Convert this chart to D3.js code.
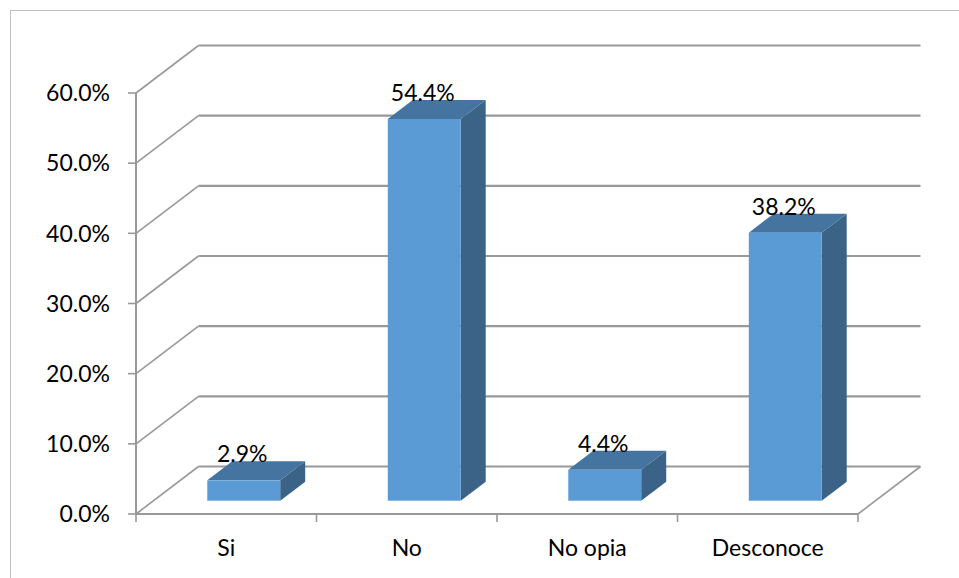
<!DOCTYPE html>
<html><head><meta charset="utf-8">
<script src="https://cdn.jsdelivr.net/npm/d3@7"></script>
<style>html,body{margin:0;padding:0;background:#fff;overflow:hidden}</style>
</head><body>
<svg id="c" width="959" height="578"></svg>
<script>
const categories = ["Si", "No", "No opia", "Desconoce"];
const values = [0.029, 0.544, 0.044, 0.382];
const valueLabels = ["2.9%", "54.4%", "4.4%", "38.2%"];
const yTicks = [0, 0.1, 0.2, 0.3, 0.4, 0.5, 0.6];

const svg = d3.select("#c");
const font = "Lato, 'Open Sans', sans-serif";
const fs = 23;

// frame
svg.append("rect").attr("x", 10.5).attr("y", 10.5).attr("width", 1000).attr("height", 1000)
  .attr("fill", "none").attr("stroke", "#bfbfbf").attr("stroke-width", 1);

const x0 = 136, x1 = 858, yb = 514, yt = 93;
const DX = 62.5, DY = -47.5; // full depth offset
const x = d3.scaleBand().domain(categories).range([x0, x1]).paddingInner(0).paddingOuter(0);
const y = d3.scaleLinear().domain([0, 0.6]).range([yb, yt]);

const grid = "#999999";
// side wall diagonals + back gridlines
yTicks.forEach(t => {
  const yy = y(t);
  svg.append("line").attr("x1", x0).attr("y1", yy).attr("x2", x0 + DX).attr("y2", yy + DY)
    .attr("stroke", grid).attr("stroke-width", 1.6);
  svg.append("line").attr("x1", x0 + DX).attr("y1", yy + DY).attr("x2", x1 + DX).attr("y2", yy + DY)
    .attr("stroke", grid).attr("stroke-width", 2.2);
});
// floor front and right diagonal
svg.append("line").attr("x1", x0).attr("y1", yb).attr("x2", x1).attr("y2", yb)
  .attr("stroke", grid).attr("stroke-width", 2);
svg.append("line").attr("x1", x1).attr("y1", yb).attr("x2", x1 + DX).attr("y2", yb + DY)
  .attr("stroke", grid).attr("stroke-width", 1.6);
// y axis
svg.append("line").attr("x1", x0).attr("y1", yt).attr("x2", x0).attr("y2", yb)
  .attr("stroke", grid).attr("stroke-width", 2);
// y ticks + labels
yTicks.forEach(t => {
  svg.append("line").attr("x1", x0 - 8).attr("y1", y(t)).attr("x2", x0).attr("y2", y(t))
    .attr("stroke", grid).attr("stroke-width", 1.6);
  svg.append("text").attr("x", 110).attr("y", y(t)).attr("dy", "0.36em")
    .attr("text-anchor", "end").attr("font-family", font).attr("font-size", fs)
    .attr("fill", "#000").text(d3.format(".1%")(t));
});
// x ticks
const xt = categories.map(c => x(c)).concat([x1]);
xt.forEach(v => {
  svg.append("line").attr("x1", v).attr("y1", yb).attr("x2", v).attr("y2", yb + 8)
    .attr("stroke", grid).attr("stroke-width", 1.6);
});
// x labels
categories.forEach(c => {
  svg.append("text").attr("x", x(c) + x.bandwidth() / 2).attr("y", 556)
    .attr("text-anchor", "middle").attr("font-family", font).attr("font-size", fs)
    .attr("fill", "#000").text(c);
});

// bars
const f0 = 0.28, f1 = 0.68; // depth fractions for bar front/back
const bw = x.bandwidth() * 0.404;
const ddx = (f1 - f0) * DX, ddy = (f1 - f0) * DY;
categories.forEach((c, i) => {
  const cx = x(c) + x.bandwidth() / 2 + f0 * DX;
  const L = cx - bw / 2, R = cx + bw / 2;
  const B = y(0) + f0 * DY, T = y(values[i]) + f0 * DY;
  const g = svg.append("g");
  // side
  g.append("path").attr("d", `M${R},${B}L${R + ddx},${B + ddy}L${R + ddx},${T + ddy}L${R},${T}Z`)
    .attr("fill", "#3a6387");
  // top
  g.append("path").attr("d", `M${L},${T}L${R},${T}L${R + ddx},${T + ddy}L${L + ddx},${T + ddy}Z`)
    .attr("fill", "#44749f");
  // front
  g.append("rect").attr("x", L).attr("y", T).attr("width", bw).attr("height", B - T)
    .attr("fill", "#5b9bd5");
  // label
  svg.append("text").attr("x", cx - 1.5).attr("y", T + ddy + 1)
    .attr("text-anchor", "middle").attr("font-family", font).attr("font-size", fs)
    .attr("fill", "#000").text(valueLabels[i]);
});
</script>
</body></html>
